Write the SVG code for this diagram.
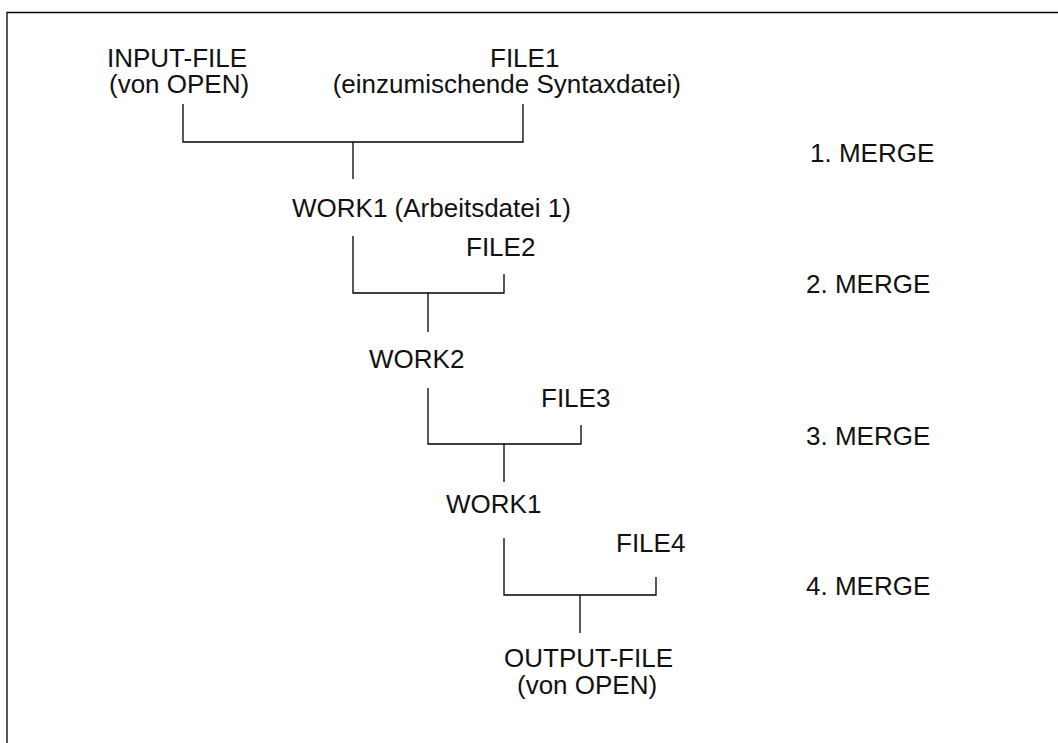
<svg xmlns="http://www.w3.org/2000/svg" width="1058" height="743" viewBox="0 0 1058 743">
  <style>
    .lbl { font-family: "Liberation Sans", Arial, Helvetica, sans-serif; font-size: 26px; fill: #111; }
    .ln { fill: none; stroke: #000; stroke-width: 1.3; }
  </style>
  <rect width="1058" height="743" fill="#fff"/>

  <!-- page frame: top and left rule -->
  <path class="ln" d="M7 743 V12.5 H1058" stroke-width="1.5"/>

  <!-- merge connectors -->
  <g id="connectors">
    <path class="ln" d="M183 104 V142 H523 V104"/>
    <path class="ln" d="M353 142 V179"/>
    <path class="ln" d="M353 236 V293 H504 V274"/>
    <path class="ln" d="M428 293 V332"/>
    <path class="ln" d="M428 388 V444 H581 V425"/>
    <path class="ln" d="M504 444 V482"/>
    <path class="ln" d="M504 538 V595 H656 V577"/>
    <path class="ln" d="M580 595 V633"/>
  </g>

  <g id="input-file">
    <text class="lbl" x="107" y="67">INPUT-FILE</text>
    <text class="lbl" x="109" y="93">(von OPEN)</text>
  </g>
  <g id="file1">
    <text class="lbl" x="490" y="67">FILE1</text>
    <text class="lbl" x="681" y="93" text-anchor="end">(einzumischende Syntaxdatei)</text>
  </g>
  <g id="work1-a">
    <text class="lbl" x="292" y="217">WORK1 (Arbeitsdatei 1)</text>
  </g>
  <g id="file2">
    <text class="lbl" x="466" y="256">FILE2</text>
  </g>
  <g id="work2">
    <text class="lbl" x="369" y="368">WORK2</text>
  </g>
  <g id="file3">
    <text class="lbl" x="541" y="407">FILE3</text>
  </g>
  <g id="work1-b">
    <text class="lbl" x="446" y="513">WORK1</text>
  </g>
  <g id="file4">
    <text class="lbl" x="616" y="552">FILE4</text>
  </g>
  <g id="output-file">
    <text class="lbl" x="504" y="667">OUTPUT-FILE</text>
    <text class="lbl" x="517" y="694">(von OPEN)</text>
  </g>

  <g id="merge-steps">
    <text class="lbl" x="810" y="162">1. MERGE</text>
    <text class="lbl" x="806" y="293">2. MERGE</text>
    <text class="lbl" x="806" y="445">3. MERGE</text>
    <text class="lbl" x="806" y="595">4. MERGE</text>
  </g>
</svg>
